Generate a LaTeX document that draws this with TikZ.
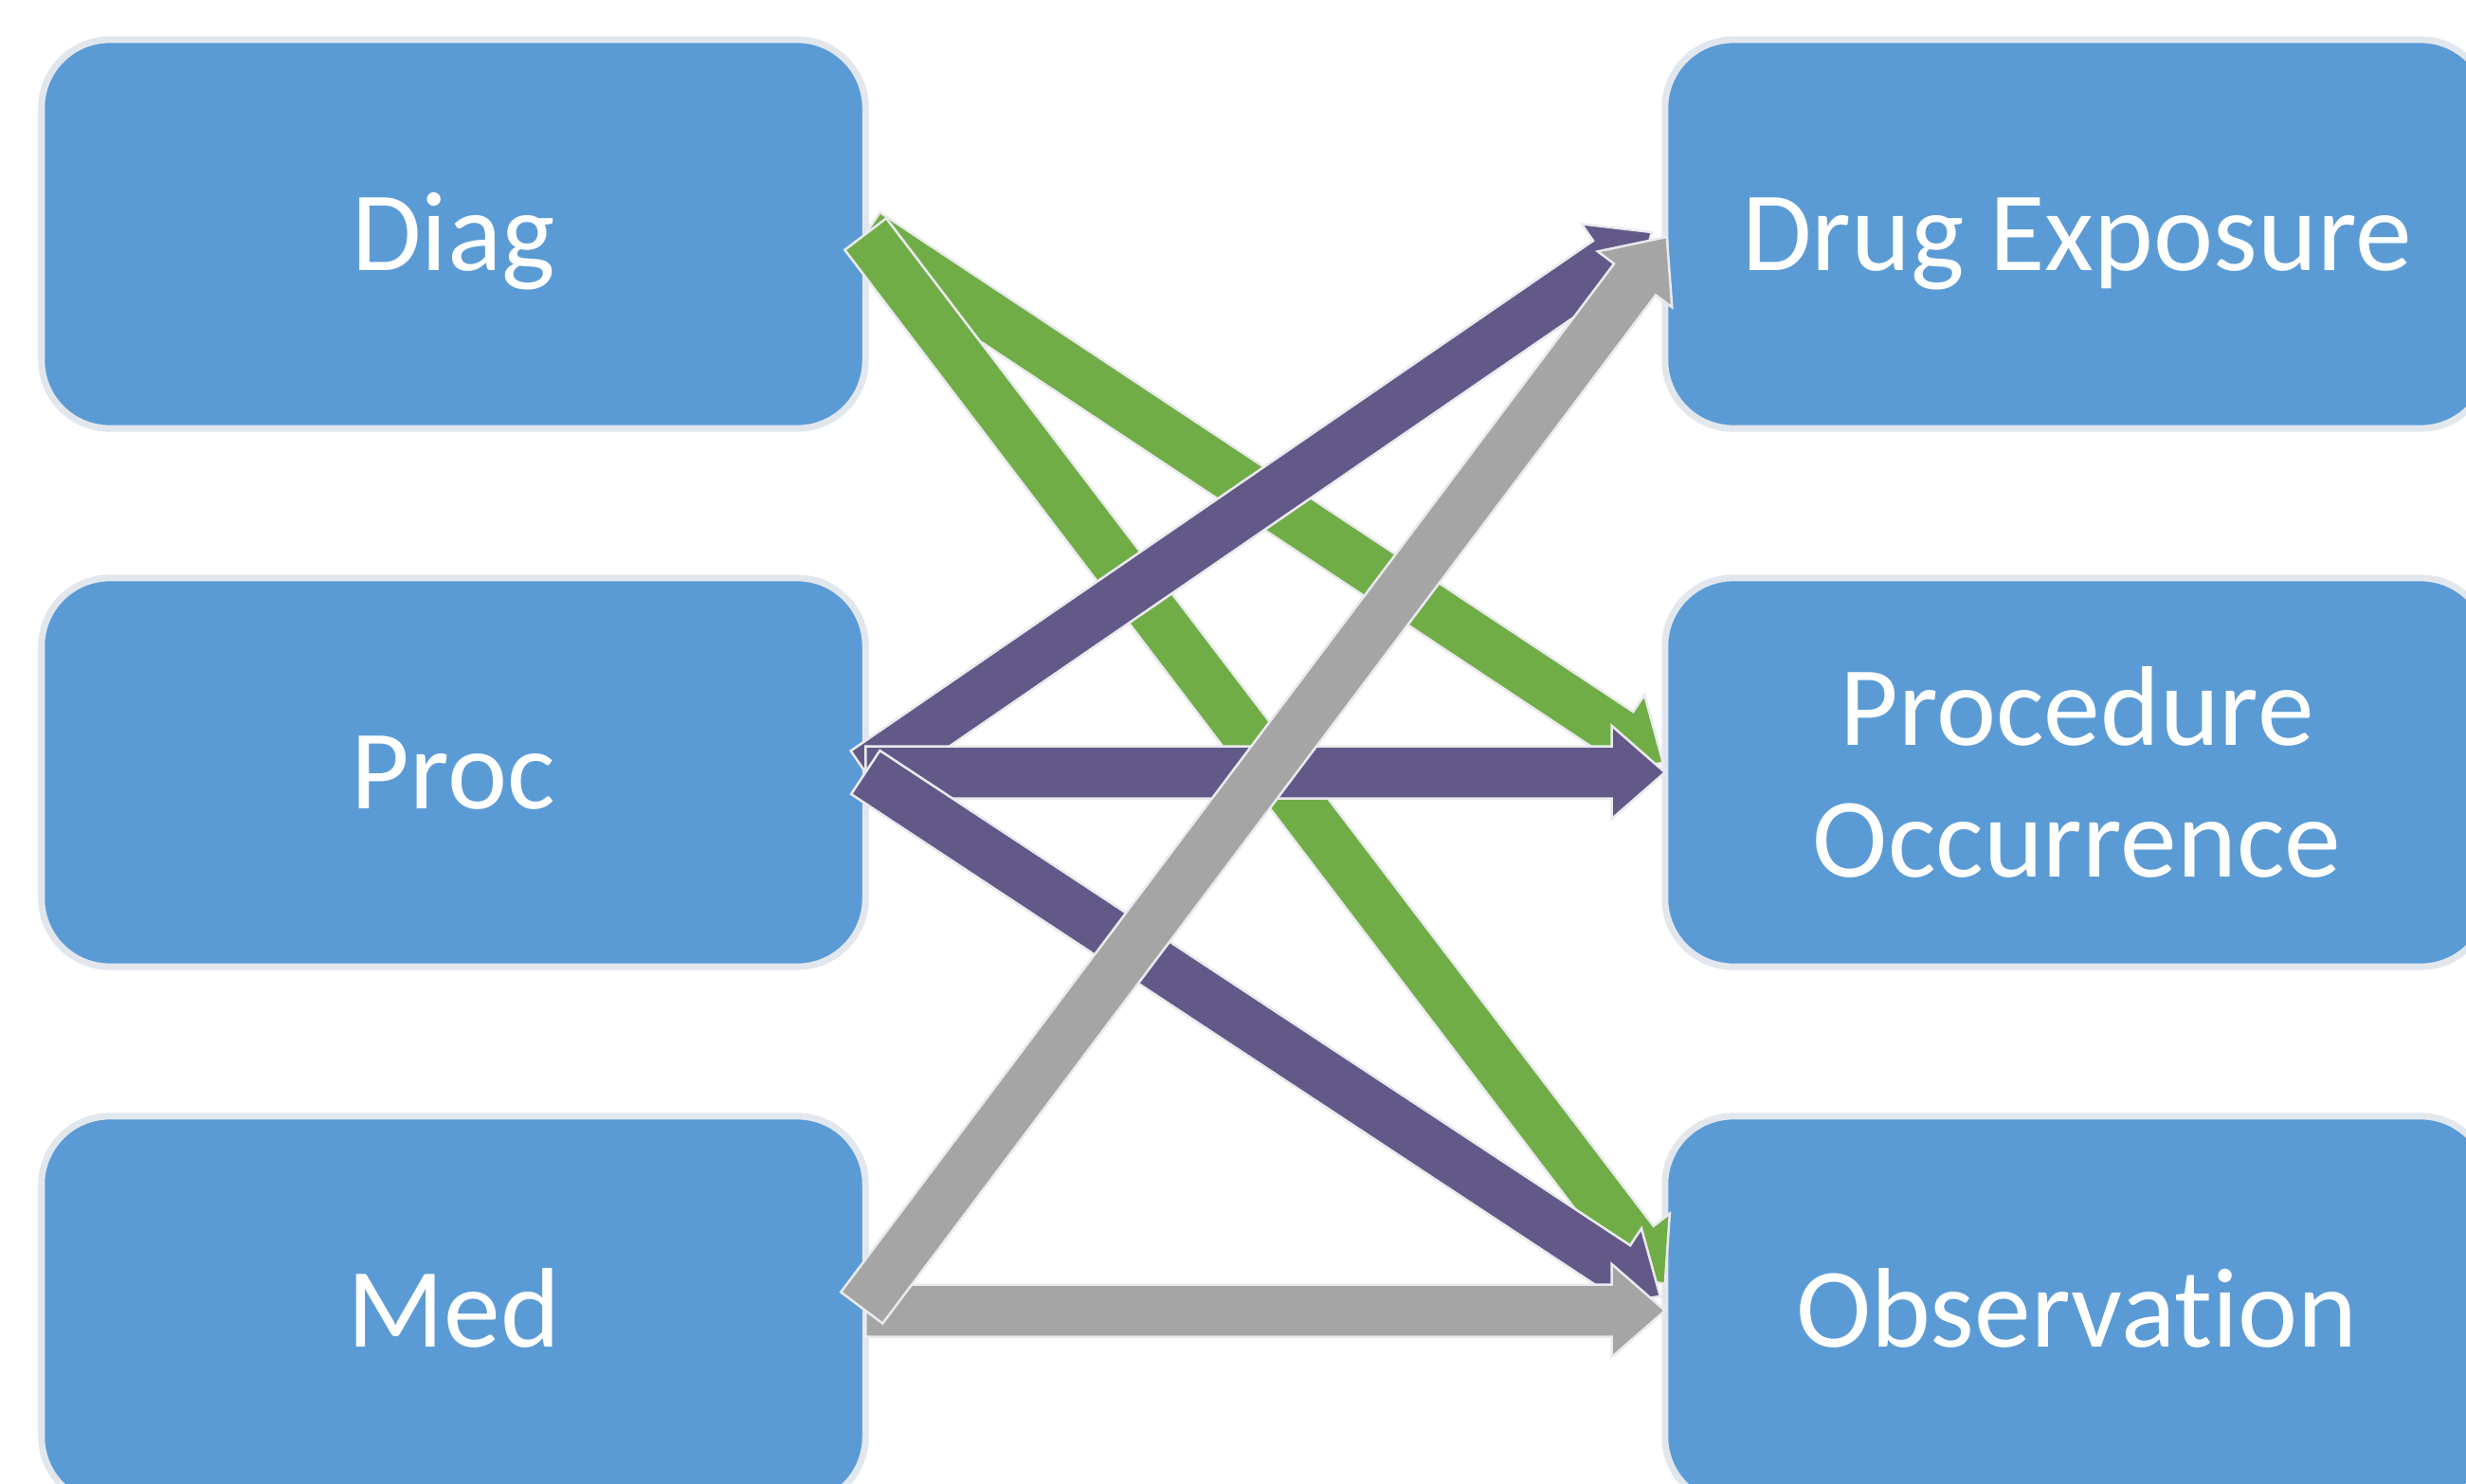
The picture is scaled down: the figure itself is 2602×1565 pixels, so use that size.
\documentclass[tikz,border=0pt]{standalone}
\usepackage{fontspec}
\setmainfont{Carlito}[Ligatures={NoCommon}]
\usetikzlibrary{calc}
\definecolor{boxblue}{HTML}{5B9BD5}
\definecolor{boxedge}{RGB}{226,231,238}
\definecolor{arrgreen}{HTML}{70AD47}
\definecolor{arrpurple}{RGB}{98,89,136}
\definecolor{arrgrey}{HTML}{A5A5A5}
\definecolor{arredge}{RGB}{234,234,238}
\tikzset{
  box/.style={rectangle, rounded corners=0.72cm, fill=boxblue, draw=boxedge,
    line width=0.07cm, minimum width=8.69cm, minimum height=4.10cm,
    outer sep=0pt, inner sep=0pt, text=white,
    font=\fontsize{34}{39.3}\selectfont},
  oneline/.style={text height=0.77cm, text depth=0cm},
  arrowbody/.style={draw=arredge, line width=0.025cm, line join=miter},
}
% block arrow from #1 to #2 filled with #3
\newcommand\blkarrow[3]{%
  \path (#1) coordinate (ba-s) (#2) coordinate (ba-e);
  \path ($(ba-e)!0.56cm!(ba-s)$) coordinate (ba-h);
  \filldraw[arrowbody, fill=#3]
    ($(ba-s)!0.275cm!90:(ba-e)$) -- ($(ba-h)!0.275cm!-90:(ba-s)$)
    -- ($(ba-h)!0.49cm!-90:(ba-s)$) -- (ba-e)
    -- ($(ba-h)!0.49cm!90:(ba-s)$) -- ($(ba-h)!0.275cm!90:(ba-s)$)
    -- ($(ba-s)!0.275cm!-90:(ba-e)$) -- cycle;}
\begin{document}
\begin{tikzpicture}[x=0.01cm, y=-0.01cm]
\useasboundingbox (0,0) rectangle (2602,1565);
\clip (0,0) rectangle (2602,1565);
\fill[white] (0,0) rectangle (2602,1565);

% source boxes
\node[box, oneline] (diag) at (478.5,247) {Diag};
\node[box, oneline] (proc) at (478.5,815) {Proc};
\node[box, oneline] (med)  at (478.5,1383) {Med};
% target boxes
\node[box, oneline] (drug) at (2191.5,247) {Drug Exposure};
\node[box, align=center] (prococc) at (2191.5,815) {Procedure\\Occurrence};
\node[box, oneline] (obs) at (2191.5,1383) {Observation};

% green arrows
\blkarrow{diag.east}{$(prococc.west)+(-2,-10)$}{arrgreen}
\blkarrow{diag.east}{$(obs.west)+(0,-28)$}{arrgreen}
% purple arrows
\blkarrow{proc.east}{$(drug.west)+(-14,-2)$}{arrpurple}
\blkarrow{proc.east}{prococc.west}{arrpurple}
\blkarrow{proc.east}{$(obs.west)+(-5,-15)$}{arrpurple}
% grey arrows
\blkarrow{med.east}{obs.west}{arrgrey}
\blkarrow{$(med.east)+(-4,-3)$}{$(drug.west)+(2,3)$}{arrgrey}
\end{tikzpicture}
\end{document}
